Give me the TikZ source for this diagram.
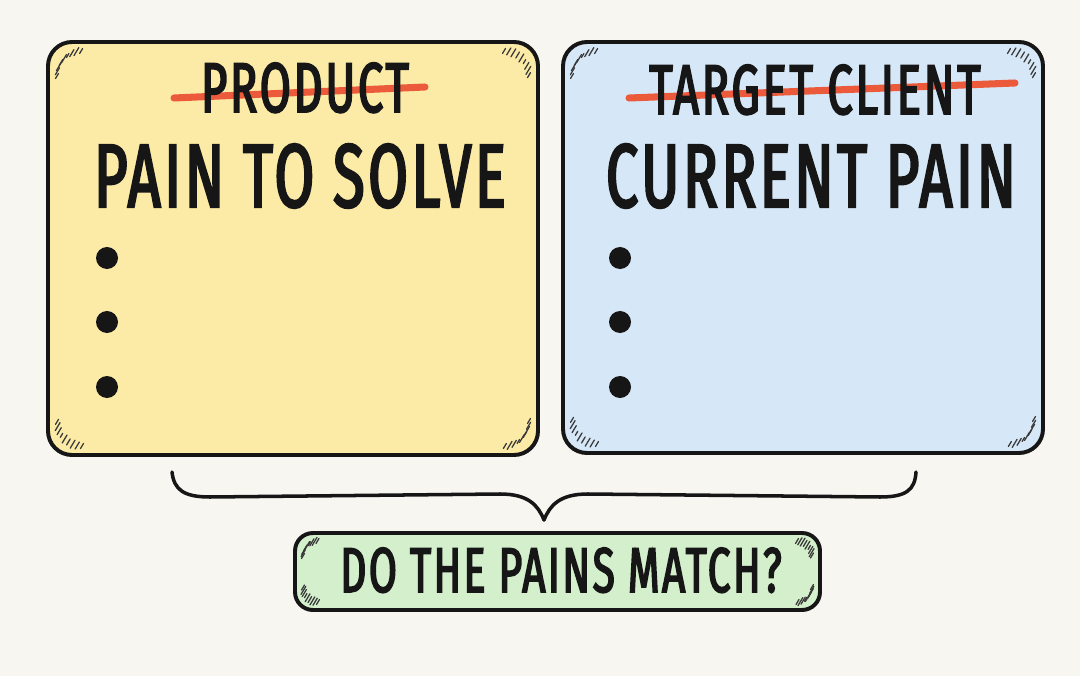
\documentclass[tikz,border=0pt]{standalone}
\usepackage{fontspec}
\newfontfamily\handfont[FakeStretch=0.64, FakeBold=2.6, LetterSpace=4]{Fira Sans}
\definecolor{PaperBackground}{HTML}{F8F6F0}
\definecolor{ProductSurface}{HTML}{FCEBA6}
\definecolor{ClientSurface}{HTML}{D6E8F7}
\definecolor{MatchSurface}{HTML}{D3EFCB}
\definecolor{StrikeRed}{HTML}{EC5A3C}
\definecolor{Ink}{HTML}{161616}
\colorlet{HatchInk}{Ink!85}
\usetikzlibrary{calc}

\tikzset{
  card/.style = {draw = Ink, line width = 2.8pt, rounded corners = 0.6cm},
  pill/.style = {draw = Ink, line width = 2.8pt, rounded corners = 0.45cm},
  strike/.style = {draw = StrikeRed, line width = 5pt, line cap = round},
  hatchline/.style = {draw = HatchInk, line width = 0.9pt, line cap = round},
  oldlabel/.style = {anchor = base, text = Ink, inner sep = 0pt,
    font = \handfont\fontsize{50}{50}\selectfont},
  headlabel/.style = {anchor = base, text = Ink, inner sep = 0pt,
    font = \handfont\fontsize{64}{64}\selectfont},
  asklabel/.style = {anchor = base, text = Ink, inner sep = 0pt,
    font = \handfont\fontsize{45}{45}\selectfont},
  bullet/.style = {circle, fill = Ink, inner sep = 0pt, minimum size = 0.55cm},
  bracket/.style = {draw = Ink, line width = 2.5pt, line cap = round, line join = round}
}

% little hatch strokes round a corner: centre, first angle, radius
\newcommand{\cornerhatch}[3]{%
  \foreach \k/\l in {0/5, 1/7, 2/8, 3/6, 4/8, 5/4, 6/7, 7/8, 8/5}
    \draw[hatchline] ($(#1)+({#2+\k*11}:#3)$) ++({-0.3*\l},{0.5*\l}) -- ++({0.6*\l},{-\l});
}

\begin{document}
\begin{tikzpicture}[x = 0.025cm, y = -0.025cm]

\fill[PaperBackground] (0,0) rectangle (1080,676);
\useasboundingbox (0,0) rectangle (1080,676);

% the two cards
\coordinate (prodNW) at (48, 42);
\coordinate (prodSE) at (538, 455);
\coordinate (clientNW) at (563, 42);
\coordinate (clientSE) at (1043, 453);
\draw[card, fill = ProductSurface] (prodNW) rectangle (prodSE);
\draw[card, fill = ClientSurface] (clientNW) rectangle (clientSE);

\cornerhatch{82,76}{180}{25}
\cornerhatch{504,76}{270}{25}
\cornerhatch{504,421}{0}{25}
\cornerhatch{82,421}{90}{25}
\cornerhatch{597,76}{180}{25}
\cornerhatch{1009,76}{270}{25}
\cornerhatch{1009,419}{0}{25}
\cornerhatch{597,419}{90}{25}

% crossed out titles
\draw[strike] (174,98) -- (425,87);
\node[oldlabel] (prodOld) at (305,112) {PRODUCT};
\draw[strike] (629,98) -- (1015,83);
\node[oldlabel] (clientOld) at (815,114) {TARGET CLIENT};

\node[headlabel] (prodHead) at (300,207) {PAIN TO SOLVE};
\node[headlabel] (clientHead) at (811,207) {CURRENT PAIN};

\foreach \i/\y in {1/258, 2/322, 3/387} {
  \node[bullet] (prodDot\i) at (107,\y) {};
  \node[bullet] (clientDot\i) at (620,\y) {};
}

% brace under both cards
\coordinate (braceL) at (172,472);
\coordinate (braceTip) at (544,520);
\coordinate (braceR) at (916,472);
\draw[bracket] (braceL)
    .. controls (174,490) and (184,497) .. (210,497)
    -- (500,494)
    .. controls (528,494) and (538,505) .. (braceTip)
    .. controls (550,505) and (560,494) .. (588,494)
    -- (880,497)
    .. controls (906,497) and (915,490) .. (braceR);

% question
\coordinate (askNW) at (295,533);
\coordinate (askSE) at (820,610);
\draw[pill, fill = MatchSurface] (askNW) rectangle (askSE);
\cornerhatch{318,556}{180}{15}
\cornerhatch{797,556}{270}{15}
\cornerhatch{797,587}{0}{15}
\cornerhatch{318,587}{90}{15}
\node[asklabel] (askText) at (561,592) {DO THE PAINS MATCH?};

\end{tikzpicture}
\end{document}
